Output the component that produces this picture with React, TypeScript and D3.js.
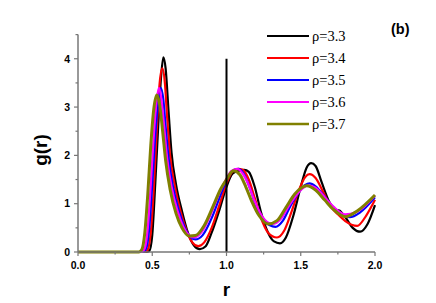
import React, { useEffect, useRef } from 'react';
import * as d3 from 'd3';

type Pt = [number, number];

const rho33: Pt[] = [
  [0, 0], [0.46, 0], [0.48, 0.02], [0.5, 0.35], [0.52, 1.4], [0.54, 2.6], [0.56, 3.65], [0.575, 4.03],
  [0.59, 3.8], [0.61, 2.9], [0.63, 2.05], [0.66, 1.4], [0.7, 0.85], [0.74, 0.4], [0.78, 0.14], [0.82, 0.06],
  [0.86, 0.12], [0.9, 0.4], [0.95, 0.85], [1.0, 1.35], [1.04, 1.62], [1.08, 1.68], [1.12, 1.7], [1.15, 1.66],
  [1.19, 1.35], [1.23, 0.85], [1.28, 0.4], [1.32, 0.22], [1.36, 0.18], [1.4, 0.3], [1.45, 0.75], [1.5, 1.35],
  [1.54, 1.75], [1.57, 1.84], [1.6, 1.78], [1.64, 1.45], [1.69, 1.05], [1.73, 0.88], [1.76, 0.86], [1.8, 0.72],
  [1.85, 0.5], [1.9, 0.42], [1.95, 0.58], [2.0, 0.97],
];
const rho34: Pt[] = [
  [0, 0], [0.45, 0], [0.47, 0.05], [0.49, 0.4], [0.51, 1.3], [0.53, 2.5], [0.55, 3.5], [0.568, 3.8],
  [0.585, 3.5], [0.6, 2.8], [0.62, 2.0], [0.65, 1.4], [0.69, 0.85], [0.73, 0.45], [0.77, 0.2], [0.81, 0.12],
  [0.85, 0.2], [0.9, 0.5], [0.95, 0.95], [1.0, 1.42], [1.04, 1.66], [1.08, 1.72], [1.11, 1.7], [1.15, 1.5],
  [1.19, 1.12], [1.23, 0.72], [1.28, 0.4], [1.34, 0.3], [1.39, 0.45], [1.44, 0.85], [1.49, 1.3], [1.53, 1.55],
  [1.56, 1.61], [1.6, 1.53], [1.65, 1.25], [1.7, 0.95], [1.75, 0.78], [1.8, 0.64], [1.88, 0.54], [1.94, 0.75],
  [2.0, 1.08],
];
const rho35: Pt[] = [
  [0, 0], [0.44, 0], [0.46, 0.08], [0.48, 0.5], [0.5, 1.4], [0.52, 2.4], [0.54, 3.1], [0.557, 3.4],
  [0.575, 3.15], [0.59, 2.6], [0.61, 1.95], [0.64, 1.35], [0.68, 0.85], [0.72, 0.5], [0.76, 0.3], [0.79, 0.26],
  [0.84, 0.35], [0.9, 0.7], [0.95, 1.1], [1.0, 1.48], [1.04, 1.68], [1.08, 1.72], [1.12, 1.6], [1.16, 1.3],
  [1.2, 0.95], [1.25, 0.65], [1.33, 0.52], [1.38, 0.65], [1.43, 0.95], [1.49, 1.25], [1.53, 1.39], [1.56, 1.42],
  [1.6, 1.36], [1.66, 1.15], [1.72, 0.92], [1.78, 0.76], [1.83, 0.72], [1.9, 0.82], [2.0, 1.13],
];
const rho36: Pt[] = [
  [0, 0], [0.43, 0], [0.45, 0.08], [0.47, 0.5], [0.49, 1.4], [0.51, 2.4], [0.53, 3.15], [0.545, 3.4],
  [0.56, 3.2], [0.58, 2.6], [0.6, 1.95], [0.63, 1.35], [0.67, 0.85], [0.71, 0.52], [0.75, 0.34], [0.78, 0.3],
  [0.83, 0.4], [0.89, 0.75], [0.95, 1.2], [1.0, 1.52], [1.03, 1.67], [1.07, 1.72], [1.11, 1.62], [1.15, 1.38],
  [1.19, 1.05], [1.24, 0.74], [1.31, 0.58], [1.37, 0.7], [1.43, 1.0], [1.49, 1.25], [1.55, 1.38], [1.6, 1.33],
  [1.66, 1.14], [1.72, 0.94], [1.8, 0.78], [1.87, 0.82], [2.0, 1.17],
];
const rho37: Pt[] = [
  [0, 0], [0.41, 0], [0.43, 0.05], [0.45, 0.4], [0.47, 1.2], [0.49, 2.2], [0.51, 2.95], [0.53, 3.25],
  [0.55, 3.05], [0.57, 2.5], [0.59, 1.9], [0.62, 1.3], [0.66, 0.8], [0.7, 0.5], [0.75, 0.33], [0.79, 0.34],
  [0.85, 0.55], [0.91, 0.95], [0.96, 1.3], [1.0, 1.5], [1.046, 1.68], [1.09, 1.6], [1.13, 1.35], [1.17, 1.05],
  [1.22, 0.75], [1.28, 0.58], [1.34, 0.65], [1.4, 0.92], [1.46, 1.2], [1.54, 1.37], [1.6, 1.28], [1.66, 1.08],
  [1.72, 0.88], [1.8, 0.73], [1.88, 0.85], [2.0, 1.18],
];

const LABELS = ['ρ=3.3', 'ρ=3.4', 'ρ=3.5', 'ρ=3.6', 'ρ=3.7'];
const COLORS = ['#000000', '#ff0000', '#0000ff', '#ff00ff', '#808000'];
const SERIES = [rho33, rho34, rho35, rho36, rho37];
const X_TICKS = [0, 0.5, 1.0, 1.5, 2.0];
const Y_TICKS = [0, 1, 2, 3, 4];
const MARKER_R = 1.0;

const W = 436;
const H = 303;

export default function App() {
  const ref = useRef<SVGSVGElement>(null);

  useEffect(() => {
    if (!ref.current) return;
    const svg = d3.select(ref.current);
    svg.selectAll('*').remove();

    const x = d3.scaleLinear().domain([0, 2]).range([78, 375]);
    const y = d3.scaleLinear().domain([0, 4.5]).range([252, 34.6]);
    const axisColor = '#777';

    // curves
    const line = d3.line<Pt>()
      .x((d) => x(d[0]))
      .y((d) => y(d[1]))
      .curve(d3.curveMonotoneX);

    SERIES.forEach((s, i) => {
      svg.append('path')
        .attr('d', line(s) ?? '')
        .attr('fill', 'none')
        .attr('stroke', COLORS[i])
        .attr('stroke-width', i === 4 ? 3 : 2.2)
        .attr('stroke-linejoin', 'round');
    });

    // vertical marker at r = 1
    svg.append('line')
      .attr('x1', x(MARKER_R)).attr('x2', x(MARKER_R))
      .attr('y1', y(4)).attr('y2', y(0))
      .attr('stroke', '#000').attr('stroke-width', 2);

    // x axis
    const gx = svg.append('g').attr('transform', `translate(0,${y(0)})`);
    gx.append('line').attr('x1', x(0)).attr('x2', x(2)).attr('stroke', axisColor).attr('stroke-width', 1.5);
    d3.range(0, 2.001, 0.25).forEach((v) => {
      const major = Math.abs(v * 2 - Math.round(v * 2)) < 1e-6;
      gx.append('line').attr('x1', x(v)).attr('x2', x(v)).attr('y1', 0).attr('y2', major ? 4 : 2.5)
        .attr('stroke', axisColor).attr('stroke-width', 1.2);
    });
    X_TICKS.forEach((v) => {
      gx.append('text').attr('x', x(v)).attr('y', 17).attr('text-anchor', 'middle')
        .attr('font-family', 'Liberation Sans, Arial, sans-serif').attr('font-weight', 700)
        .attr('font-size', 10.5).attr('fill', '#000').text(d3.format('.1f')(v));
    });

    // y axis
    const gy = svg.append('g').attr('transform', `translate(${x(0)},0)`);
    gy.append('line').attr('y1', y(0)).attr('y2', y(4.5)).attr('stroke', axisColor).attr('stroke-width', 1.5);
    d3.range(0, 4.501, 0.5).forEach((v) => {
      const major = Math.abs(v - Math.round(v)) < 1e-6;
      gy.append('line').attr('x1', 0).attr('x2', major ? -4 : -2.5).attr('y1', y(v)).attr('y2', y(v))
        .attr('stroke', axisColor).attr('stroke-width', 1.2);
    });
    Y_TICKS.forEach((v) => {
      gy.append('text').attr('x', -8).attr('y', y(v)).attr('dy', '0.36em').attr('text-anchor', 'end')
        .attr('font-family', 'Liberation Sans, Arial, sans-serif').attr('font-weight', 700)
        .attr('font-size', 10.5).attr('fill', '#000').text(v);
    });

    // axis titles
    svg.append('text').attr('x', x(1)).attr('y', 296).attr('text-anchor', 'middle')
      .attr('font-family', 'Liberation Sans, Arial, sans-serif').attr('font-weight', 700)
      .attr('font-size', 19).text('r');
    svg.append('text').attr('transform', `translate(47,150) rotate(-90)`).attr('text-anchor', 'middle')
      .attr('font-family', 'Liberation Sans, Arial, sans-serif').attr('font-weight', 700)
      .attr('font-size', 19).text('g(r)');

    // legend
    LABELS.forEach((lab, i) => {
      const ly = 36 + i * 22;
      svg.append('line').attr('x1', 267).attr('x2', 309).attr('y1', ly).attr('y2', ly)
        .attr('stroke', COLORS[i]).attr('stroke-width', i === 4 ? 2.6 : 2.2);
      svg.append('text').attr('x', 312).attr('y', ly + 5)
        .attr('font-family', '"Liberation Serif", "Times New Roman", serif')
        .attr('font-size', 14.5).attr('fill', '#000').text(lab);
    });

    svg.append('text').attr('x', 391).attr('y', 34)
      .attr('font-family', 'Liberation Sans, Arial, sans-serif').attr('font-weight', 700)
      .attr('font-size', 14.5).text('(b)');
  }, []);

  return (
    <svg ref={ref} width={W} height={H}
      style={{ position: 'absolute', left: 0, top: 0, background: '#fff' }} />
  );
}
